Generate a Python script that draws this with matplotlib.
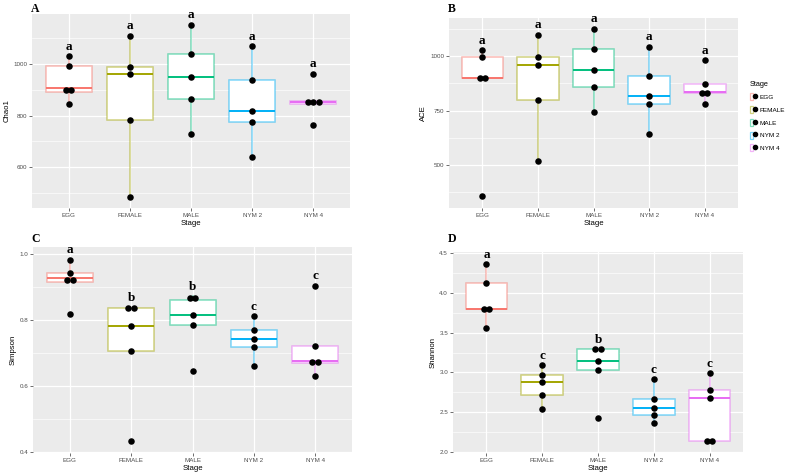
import numpy as np
import matplotlib.pyplot as plt
from matplotlib.colors import to_rgb
from matplotlib.patches import Patch
from matplotlib.lines import Line2D
from matplotlib.legend_handler import HandlerTuple

# Stadien und Farben (ggplot Standardpalette)
stages = ['EGG', 'FEMALE', 'MALE', 'NYM 2', 'NYM 4']
colors = ['#F8766D', '#A3A500', '#00BF7D', '#00B0F6', '#E76BF3']

# Werte je Index und Stadium
chao1 = [[844, 891, 905, 994, 1030],
         [483, 781, 962, 988, 1110],
         [729, 865, 951, 1038, 1152],
         [638, 775, 818, 936, 1069],
         [762, 844, 851, 858, 962]]
ace = [[354, 900, 900, 995, 1028],
       [515, 800, 958, 997, 1100],
       [742, 857, 937, 1034, 1128],
       [640, 779, 815, 908, 1045],
       [782, 830, 835, 872, 982]]
simpson = [[0.817, 0.916, 0.929, 0.943, 0.983],
           [0.432, 0.707, 0.781, 0.836, 0.838],
           [0.644, 0.786, 0.815, 0.860, 0.872],
           [0.659, 0.718, 0.744, 0.771, 0.811],
           [0.631, 0.669, 0.676, 0.722, 0.904]]
shannon = [[3.554, 3.790, 3.790, 4.117, 4.354],
           [2.542, 2.717, 2.883, 2.963, 3.088],
           [2.433, 3.025, 3.138, 3.292, 3.292],
           [2.363, 2.463, 2.550, 2.663, 2.913],
           [2.137, 2.137, 2.675, 2.775, 2.992]]

# Buchstaben der Signifikanzgruppen
letters_a = ['a', 'a', 'a', 'a', 'a']
letters_b = ['a', 'a', 'a', 'a', 'a']
letters_c = ['a', 'b', 'b', 'c', 'c']
letters_d = ['a', 'c', 'b', 'c', 'c']

plt.rcParams['font.family'] = ['Liberation Sans', 'DejaVu Sans']

fig = plt.figure(figsize=(7.94, 4.76), dpi=100)

panels = [
    ('A', 'Chao1', chao1, letters_a, [0.0403, 0.563, 0.4005, 0.4076],
     (441, 1194), [600, 800, 1000], [500, 700, 900, 1100], (31, 3)),
    ('B', 'ACE', ace, letters_b, [0.5655, 0.563, 0.364, 0.3992],
     (300, 1177), [500, 750, 1000], [375, 625, 875, 1125], (448, 3)),
    ('C', 'Simpson', simpson, letters_c, [0.0416, 0.0483, 0.4017, 0.4327],
     (0.396, 1.022), [0.4, 0.6, 0.8, 1.0], [0.5, 0.7, 0.9], (31, 233)),
    ('D', 'Shannon', shannon, letters_d, [0.5705, 0.0483, 0.3653, 0.4223],
     (1.99, 4.51), [2.0, 2.5, 3.0, 3.5, 4.0, 4.5],
     [2.25, 2.75, 3.25, 3.75, 4.25], (448, 233)),
]


def dot_positions(values, binwidth):
    # einfache Nachbildung von geom_dotplot: nahe Werte nebeneinander stapeln
    vals = sorted(values)
    groups = [[vals[0]]]
    for v in vals[1:]:
        if v - groups[-1][0] < binwidth:
            groups[-1].append(v)
        else:
            groups.append([v])
    xs, ys = [], []
    for g in groups:
        n = len(g)
        offs = (np.arange(n) - (n - 1) / 2) * 0.09
        xs.extend(offs)
        ys.extend([np.mean(g)] * n)
    return np.array(xs), np.array(ys)


for tag, ylabel, data, letters, rect, ylim, yticks, yminor, tagpos in panels:
    ax = fig.add_axes(rect)
    ax.set_facecolor('#EBEBEB')
    pos = np.arange(1, len(stages) + 1)

    bp = ax.boxplot(data, positions=pos, widths=0.75, patch_artist=True,
                    showfliers=False, showcaps=False, zorder=2)
    for i, c in enumerate(colors):
        light = (*to_rgb(c), 0.5)
        bp['boxes'][i].set_facecolor('white')
        bp['boxes'][i].set_edgecolor(light)
        bp['boxes'][i].set_linewidth(1.1)
        bp['medians'][i].set(color=c, lw=1.4)
        for w in bp['whiskers'][2 * i:2 * i + 2]:
            w.set(color=light, lw=1.1)

    allv = np.concatenate(data)
    binwidth = (allv.max() - allv.min()) / 30
    for i, vals in enumerate(data):
        dx, dy = dot_positions(vals, binwidth)
        ax.scatter(pos[i] + dx, dy, s=22, color='black', zorder=4, lw=0)
        ax.annotate(letters[i], (pos[i], max(vals)), xytext=(0, 2.5),
                    textcoords='offset points', ha='center', va='bottom',
                    fontsize=9.5, fontweight='bold', family='Liberation Serif',
                    zorder=5, annotation_clip=False)

    ax.set_xlim(0.4, 5.6)
    ax.set_ylim(*ylim)
    ax.set_xticks(pos)
    ax.set_xticklabels(stages)
    ax.set_yticks(yticks)
    ax.set_yticks(yminor, minor=True)
    ax.grid(True, which='major', color='white', lw=0.9)
    ax.grid(True, which='minor', axis='y', color='white', lw=0.45)
    ax.set_axisbelow(True)
    for s in ax.spines.values():
        s.set_visible(False)
    ax.tick_params(which='major', labelsize=4.5, labelcolor='#4D4D4D',
                   color='#333333', length=2, width=0.5, pad=1.5)
    ax.tick_params(which='minor', length=0)
    ax.set_xlabel('Stage', fontsize=5.6, labelpad=1.5)
    ax.set_ylabel(ylabel, fontsize=5.6, labelpad=2)

    fig.text(tagpos[0] / 794, 1 - tagpos[1] / 476, tag, fontsize=8.5,
             fontweight='bold', family='Liberation Serif', va='top', ha='left')

# Legende rechts neben Panel B
handles = []
for c in colors:
    box = Patch(facecolor='white', edgecolor=(*to_rgb(c), 0.5), lw=0.9)
    dot = Line2D([], [], marker='o', color='black', ls='', markersize=3)
    handles.append((box, dot))
leg = fig.legend(handles, stages, title='Stage', loc='upper left',
                 bbox_to_anchor=(744 / 794, 1 - 75 / 476), frameon=False,
                 fontsize=4.6, title_fontsize=5.3, handlelength=1.1,
                 handleheight=1.3, handletextpad=0.5, labelspacing=0.9,
                 handler_map={tuple: HandlerTuple(ndivide=None, pad=0)})
leg._legend_box.align = 'left'

fig.savefig('out.png', dpi=100)
